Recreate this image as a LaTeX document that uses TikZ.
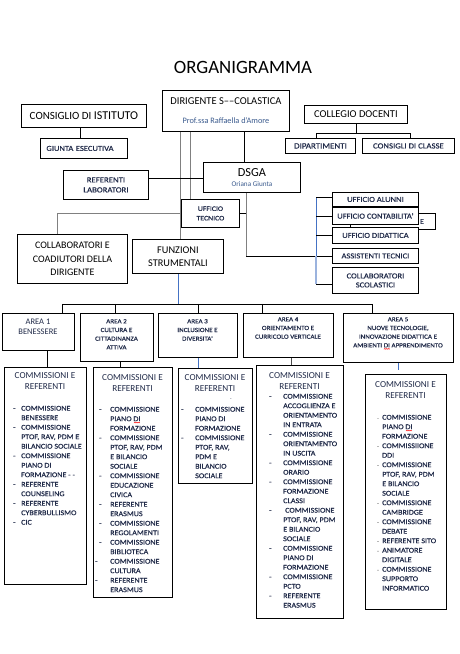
\documentclass[tikz,border=0pt]{standalone}
\usepackage{fontspec}
\setmainfont{Carlito}
\newfontfamily\stf[FakeStretch=1.12,FakeBold=0.5]{Carlito}
\definecolor{txtc}{HTML}{222C4A}
\definecolor{namec}{HTML}{3B5B8E}
\definecolor{lgray}{HTML}{808080}
\definecolor{lblue}{HTML}{4472C4}
\definecolor{llblue}{HTML}{9BB3DE}
\newcommand\Li[1]{-&#1\\}
\newcommand\LiL[1]{\hspace*{-4pt}-&#1\\}
\newcommand\Lb[1]{\textcolor{lgray}{\fontsize{5}{6}\selectfont -}&#1\\}
\newcommand\Lc[1]{&#1\\}
\newcommand\sqg[1]{\setbox0\hbox{#1}\rlap{\copy0}\raisebox{-1.9pt}{\makebox[\wd0][c]{\tikz[x=1pt,y=1pt,baseline=0pt]\draw[red,line width=0.45pt] (0,0) -- (1,0.8) -- (2,0) -- (3,0.8) -- (4,0) -- (5,0.8) -- (6,0);}}}
\begin{document}
\begin{tikzpicture}[x=1pt,y=-1pt,
  box/.style={draw=black,line width=0.9pt,fill=white,inner sep=0pt,anchor=north west,align=center,text=black},
  sz/.style 2 args={minimum width=#1pt,minimum height=#2pt},
  rb/.style={box,font=\stf\fontsize{7.6}{9}\selectfont,text=txtc},
  txt/.style={inner sep=0pt,text=txtc},
  lst/.style={txt,anchor=base west,font=\stf\fontsize{7.2}{9.5}\selectfont},
  hd/.style={txt,anchor=base,font=\fontsize{9.2}{11}\selectfont},
  arl/.style={txt,anchor=base,font=\stf\fontsize{6.3}{8.7}\selectfont},
  cn/.style={draw=black,line width=0.8pt},
  gcn/.style={draw=lgray,line width=1.5pt},
  bcn/.style={draw=lblue,line width=0.9pt}]
\useasboundingbox (0,0) rectangle (459,654);
\fill[white] (0,0) rectangle (459,654);

% title
\node[txt,text=black,font=\fontsize{18.8}{22}\selectfont] (title) at (243,67) {ORGANIGRAMMA};

% top boxes
\node[box,sz={125}{23}] (cdi) at (21,104) {\fontsize{11}{13}\selectfont CONSIGLIO DI {\fontsize{12}{13}\selectfont ISTITUTO}};
\node[box,sz={87}{20},text width=75pt,inner xsep=6pt,align=left,font=\stf\fontsize{7.6}{9}\selectfont,text=txtc] (giunta) at (40,138) {GIUNTA ESECUTIVA};
\node[box,sz={127}{41}] (dir) at (162,90) {{\fontsize{10.5}{12}\selectfont DIRIGENTE S––COLASTICA}\\[7pt]{\fontsize{8.3}{10}\selectfont\color{namec}Prof.ssa Raffaella d’Amore}};
\node[box,sz={103}{18},font=\fontsize{10.5}{12}\selectfont] (coll) at (304,105) {COLLEGIO DOCENTI};
\node[box,sz={70}{15},font=\stf\fontsize{8}{9}\selectfont,text=txtc] (dip) at (285,138) {DIPARTIMENTI};
\node[box,sz={92}{15},font=\stf\fontsize{7.8}{9}\selectfont,text=txtc] (ccl) at (362,138) {CONSIGLI DI CLASSE};
\node[box,sz={97}{30}] (dsga) at (203,162) {{\fontsize{12.3}{14}\selectfont DSGA}\\[-2.5pt]{\fontsize{7.2}{9}\selectfont\color{namec}Oriana Giunta}};
\node[box,sz={85}{29},font=\stf\fontsize{7.8}{10}\selectfont,text=txtc] (refl) at (63,170) {REFERENTI\\LABORATORI};
\node[box,sz={58}{28},font=\stf\fontsize{6.9}{9.5}\selectfont,text=txtc] (uft) at (181,199) {UFFICIO\\TECNICO};
\node[box,sz={110}{49},font=\fontsize{10}{13.5}\selectfont] (colab) at (17,234) {COLLABORATORI E\\COADIUTORI DELLA\\DIRIGENTE};
\node[box,sz={91}{34},font=\fontsize{10.3}{12.5}\selectfont] (funz) at (132,239) {FUNZIONI\\STRUMENTALI};

% right column
\node[box,sz={85}{16}] (hid) at (350,213) {};
\node[txt,font=\stf\fontsize{7.2}{9}\selectfont] (hidE) at (422,221.5) {E};
\node[rb,sz={86}{14}] (alun) at (332,192) {UFFICIO ALUNNI};
\node[rb,sz={86}{17}] (cont) at (332,207) {UFFICIO CONTABILITA’};
\node[rb,sz={86}{16}] (did) at (332,227) {UFFICIO DIDATTICA};
\node[rb,sz={86}{15}] (asst) at (332,248) {ASSISTENTI TECNICI};
\node[rb,sz={86}{26}] (csc) at (332,267) {COLLABORATORI\\SCOLASTICI};

% areas
\node[box,sz={72}{37}] (a1) at (2,313) {};
\node[box,sz={73}{48}] (a2) at (80,313) {};
\node[box,sz={79}{44}] (a3) at (158,313) {};
\node[box,sz={90}{44}] (a4) at (243,313) {};
\node[box,sz={110}{49}] (a5) at (343,313) {};
\node[txt,anchor=base,font=\fontsize{8.5}{10}\selectfont] (a1t) at (38,324.7) {\begin{tabular}[t]{@{}c@{}}AREA 1\\BENESSERE\end{tabular}};
\node[arl] (a2t) at (116.5,323.3) {\begin{tabular}[t]{@{}c@{}}AREA 2\\CULTURA E\\CITTADINANZA\\ATTIVA\end{tabular}};
\node[arl] (a3t) at (197.5,323.3) {\begin{tabular}[t]{@{}c@{}}AREA 3\\INCLUSIONE E\\DIVERSITA’\end{tabular}};
\node[arl] (a4t) at (288,321.3) {\begin{tabular}[t]{@{}c@{}}AREA 4\\ORIENTAMENTO E\\CURRICOLO VERTICALE\end{tabular}};
\node[arl] (a5t) at (398,321.3) {\begin{tabular}[t]{@{}c@{}}AREA 5\\NUOVE TECNOLOGIE,\\INNOVAZIONE DIDATTICA E\\AMBIENTI \sqg{DI} APPRENDIMENTO\end{tabular}};

% commission boxes
\node[box,sz={82}{217}] (c1) at (4,367) {};
\node[box,sz={79}{230}] (c2) at (93,367) {};
\node[box,sz={74}{115}] (c3) at (178,368) {};
\node[box,sz={87}{253}] (c4) at (256,365) {};
\node[box,sz={81}{235}] (c5) at (365,374) {};

\node[hd] (h1) at (45,378) {\begin{tabular}[t]{@{}c@{}}COMMISSIONI E\\REFERENTI\end{tabular}};
\node[hd] (h2) at (132.5,380) {\begin{tabular}[t]{@{}c@{}}COMMISSIONI E\\REFERENTI\end{tabular}};
\node[hd] (h3) at (215,380) {\begin{tabular}[t]{@{}c@{}}COMMISSIONI E\\REFERENTI\end{tabular}};
\node[hd] (h4) at (299.5,378) {\begin{tabular}[t]{@{}c@{}}COMMISSIONI E\\REFERENTI\end{tabular}};
\node[hd] (h5) at (405.5,387) {\begin{tabular}[t]{@{}c@{}}COMMISSIONI E\\REFERENTI\end{tabular}};
\node[txt,font=\fontsize{5}{6}\selectfont] (h3d) at (231,400) {-};

\node[lst] (l1) at (13,410.6) {\begin{tabular}[t]{@{}p{8pt}@{}l@{}}
\Li{COMMISSIONE}\Lc{BENESSERE}\Li{COMMISSIONE}\Lc{PTOF, RAV, PDM E}\Lc{BILANCIO SOCIALE}\Li{COMMISSIONE}\Lc{PIANO DI}\Lc{FORMAZIONE - -}\Li{REFERENTE}\Lc{COUNSELING}\Li{REFERENTE}\Lc{CYBERBULLISMO}\Li{CIC}
\end{tabular}};
\node[lst] (l2) at (99,411.6) {\begin{tabular}[t]{@{}p{11pt}@{}l@{}}
\Li{COMMISSIONE}\Lc{PIANO \sqg{DI}}\Lc{FORMAZIONE}\Li{COMMISSIONE}\Lc{PTOF, RAV, PDM}\Lc{E BILANCIO}\Lc{SOCIALE}\Li{COMMISSIONE}\Lc{EDUCAZIONE}\Lc{CIVICA}\Li{REFERENTE}\Lc{ERASMUS}\Li{COMMISSIONE}\Lc{REGOLAMENTI}\Li{COMMISSIONE}\Lc{BIBLIOTECA}\LiL{COMMISSIONE}\Lc{CULTURA}\LiL{REFERENTE}\Lc{ERASMUS}
\end{tabular}};
\node[lst] (l3) at (181,411.6) {\begin{tabular}[t]{@{}p{14pt}@{}l@{}}
\Li{COMMISSIONE}\Lc{PIANO DI}\Lc{FORMAZIONE}\Li{COMMISSIONE}\Lc{PTOF, RAV,}\Lc{PDM E}\Lc{BILANCIO}\Lc{SOCIALE}
\end{tabular}};
\node[lst] (l4) at (269,398.6) {\begin{tabular}[t]{@{}p{14pt}@{}l@{}}
\Li{COMMISSIONE}\Lc{ACCOGLIENZA E}\Lc{ORIENTAMENTO}\Lc{IN ENTRATA}\Li{COMMISSIONE}\Lc{ORIENTAMENTO}\Lc{IN USCITA}\Li{COMMISSIONE}\Lc{ORARIO}\Li{COMMISSIONE}\Lc{FORMAZIONE}\Lc{CLASSI}\Li{\hspace*{2pt}COMMISSIONE}\Lc{PTOF, RAV, PDM}\Lc{E BILANCIO}\Lc{SOCIALE}\Li{COMMISSIONE}\Lc{PIANO DI}\Lc{FORMAZIONE}\Li{COMMISSIONE}\Lc{PCTO}\Li{REFERENTE}\Lc{ERASMUS}
\end{tabular}};
\node[lst] (l5) at (377,419.6) {\begin{tabular}[t]{@{}p{5pt}@{}l@{}}
\Lb{COMMISSIONE}\Lc{PIANO \sqg{DI}}\Lc{FORMAZIONE}\Lb{COMMISSIIONE}\Lc{DDI}\Lb{COMMISSIONE}\Lc{PTOF, RAV, PDM}\Lc{E BILANCIO}\Lc{SOCIALE}\Lb{COMMISSIONE}\Lc{CAMBRIDGE}\Lb{COMMISSIONE}\Lc{DEBATE}\Lb{REFERENTE SITO}\Lb{ANIMATORE}\Lc{DIGITALE}\Lb{COMMISSIONE}\Lc{SUPPORTO}\Lc{INFORMATICO}
\end{tabular}};

% ---- connectors ----
\draw[cn] ([xshift=-3.5pt]cdi.south) -- ([xshift=-3.5pt]giunta.north);
\draw[cn] (coll.south) -- ++(0,9) coordinate (cbus);
\draw[cn] ([xshift=-4pt]dip.north) |- (cbus) -| ([xshift=2pt]ccl.north);
\draw[cn] ([xshift=18.5pt]dir.south) -- ([xshift=-7.5pt]dsga.north);
\path ([xshift=-45.5pt]dir.south) coordinate (g1);
\draw[gcn] (g1) -- ([xshift=2.5pt]funz.north);
\draw[gcn] ([xshift=-35.5pt]dir.south) -- ([xshift=-20pt]uft.north);
\draw[cn] ([yshift=6.5pt]refl.east) -- ([yshift=-1pt]dsga.west);
\path ([xshift=-15pt]colab.north) coordinate (g2);
\draw[gcn] (g1 |- uft.east) -| (g2);
\path ([xshift=-5.5pt]dsga.south) coordinate (d1);
\draw[cn] (uft.east) -- (uft.east -| d1);
\draw[gcn] (d1) -- (d1 |- asst.west);
\draw[cn] (d1 |- asst.west) -- (asst.west);
\path ([xshift=-16pt,yshift=2pt]alun.west) coordinate (s1);
\path ([yshift=-4pt]csc.west) coordinate (s5);
\draw[bcn] (s1) -- (s1 |- asst.west);
\draw[draw=llblue,line width=1.2pt] (s1 |- asst.west) -- (s1 |- s5);
\draw[cn] (s1) -- ([yshift=2pt]alun.west);
\draw[cn] (s1 |- cont.west) -- (cont.west);
\draw[cn] (s1 |- did.west) -- (did.west);
\draw[cn] (s1 |- s5) -- (s5);

\draw[bcn] ([xshift=0.5pt]funz.south) -- ++(0,30) coordinate (fb);
\path ([xshift=24pt]a1.north) coordinate (p1);
\path ([xshift=-1.5pt]a2.north) coordinate (p2);
\path ([xshift=0.5pt]a3.north) coordinate (p3);
\path ([xshift=-26pt]a4.north) coordinate (p4);
\path ([xshift=-26pt]a5.north) coordinate (p5);
\draw[cn] (p1 |- fb) -- (p5 |- fb);
\foreach \p in {p1,p2,p3,p4,p5} \draw[cn] (\p |- fb) -- (\p);

\draw[cn] ([xshift=9pt]a1.south) -- ([xshift=2pt]c1.north);
\draw[cn] ([xshift=3.5pt]a2.south) -- ([xshift=-12.5pt]c2.north);
\draw[bcn] ([xshift=0.5pt]a3.south) -- ([xshift=-17pt]c3.north);
\draw[cn,draw=black!70] ([xshift=3pt]a4.south) -- ([xshift=-8.5pt]c4.north);
\draw[bcn] (a5.south) -- ([xshift=-7.5pt,yshift=4pt]c5.north);
\end{tikzpicture}
\end{document}
